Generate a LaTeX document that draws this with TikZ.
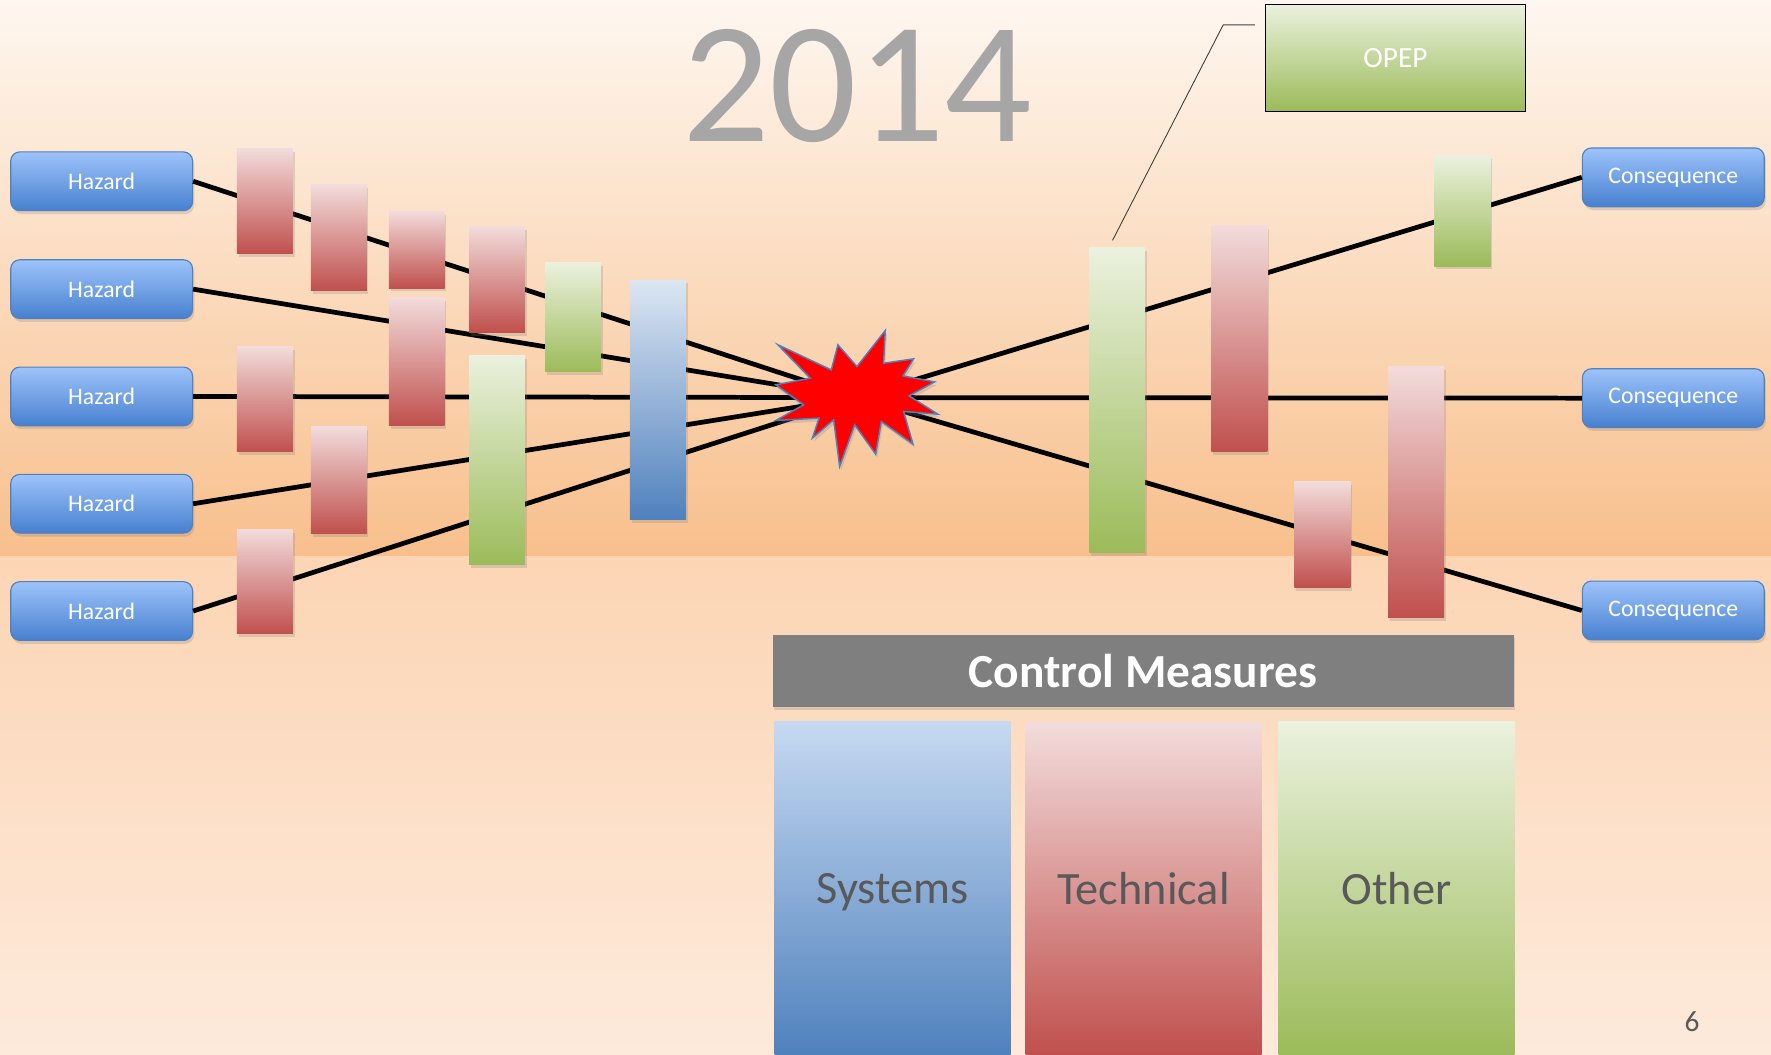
\documentclass[tikz,border=0pt]{standalone}
\usepackage{fontspec}
\setmainfont{Carlito}
\usetikzlibrary{shadows}
\definecolor{BgTop}{HTML}{FEF7F0}
\definecolor{BgMid}{HTML}{F8BF8C}
\definecolor{BgLow}{HTML}{FCD5B4}
\definecolor{BgEnd}{HTML}{FDEADB}
\definecolor{BoxTop}{HTML}{9DC3FA}
\definecolor{BoxBot}{HTML}{4780D0}
\definecolor{BoxLine}{HTML}{4F81BD}
\definecolor{RedTop}{HTML}{F2DCDB}
\definecolor{RedBot}{HTML}{C0504D}
\definecolor{GreenTop}{HTML}{EBF1DE}
\definecolor{GreenBot}{HTML}{9BBB59}
\definecolor{BlueTop}{HTML}{DCE6F2}
\definecolor{BlueBot}{HTML}{4F81BD}
\definecolor{SysTop}{HTML}{C6D9F1}
\definecolor{StarEdge}{HTML}{4F81BD}
\definecolor{HeadGray}{HTML}{7F7F7F}
\definecolor{YearGray}{HTML}{A6A6A6}
\definecolor{TextGray}{HTML}{595959}

\tikzset{
  softshadow/.style={drop shadow={shadow xshift=1.5pt, shadow yshift=-3pt, opacity=0.25}},
  riskbox/.style={draw=BoxLine, line width=1pt, rounded corners=8pt,
    top color=BoxTop, bottom color=BoxBot, minimum width=161pt, minimum height=52pt,
    text=white, font=\fontsize{21}{25}\selectfont, softshadow},
  techbar/.style={top color=RedTop, bottom color=RedBot, minimum width=49.5pt, inner sep=0pt, softshadow},
  otherbar/.style={top color=GreenTop, bottom color=GreenBot, minimum width=49.5pt, inner sep=0pt, softshadow},
  sysbar/.style={top color=BlueTop, bottom color=BlueBot, minimum width=49.5pt, inner sep=0pt, softshadow},
  link/.style={line width=4.2pt},
  column/.style={minimum width=209pt, inner sep=0pt, text depth=0pt, text=TextGray, font=\fontsize{41}{48}\selectfont}
}

\begin{document}
\begin{tikzpicture}[x=1pt,y=-1pt]
\useasboundingbox (0,0) rectangle (1568,934);
\shade[top color=BgTop, bottom color=BgMid] (0,0) rectangle (1568,493);
\shade[top color=BgLow, bottom color=BgEnd] (0,493) rectangle (1568,934);

\node[text=YearGray, font=\fontsize{153}{160}\selectfont, inner sep=0pt] (year) at (759,76) {2014};

\node[riskbox] (h1) at (90,160.5) {Hazard};
\node[riskbox] (h2) at (90,256) {Hazard};
\node[riskbox] (h3) at (90,351) {Hazard};
\node[riskbox] (h4) at (90,446) {Hazard};
\node[riskbox] (h5) at (90,541) {Hazard};

\node[riskbox] (c1) at (1481.5,157) {Consequence};
\node[riskbox] (c2) at (1481.5,352.5) {Consequence};
\node[riskbox] (c3) at (1481.5,540.5) {Consequence};

\coordinate (boom) at (758,352);

\draw[link] (h1.east) -- (boom);
\draw[link] (h2.east) -- (boom);
\draw[link] (h3.east) -- (boom);
\draw[link] (h4.east) -- (boom);
\draw[link] (h5.east) -- (boom);
\draw[link] (boom) -- (c1.west);
\draw[link] (boom) -- (c2.west);
\draw[link] (boom) -- (c3.west);

% barriers before the event
\node[techbar, minimum height=93] (t1) at (234.5,178) {};
\node[techbar, minimum height=93.5] (t2) at (300,210.3) {};
\node[techbar, minimum height=68] (t3) at (369,221) {};
\node[techbar, minimum height=93.5] (t4) at (440,247.3) {};
\node[otherbar, minimum height=96.5] (o1) at (507.3,280.8) {};
\node[sysbar, minimum height=212] (s1) at (582.5,354) {};
\node[techbar, minimum height=113] (t5) at (369,320) {};
\node[techbar, minimum height=93.5] (t6) at (234.5,353.3) {};
\node[otherbar, minimum height=185] (o2) at (440,407.5) {};
\node[techbar, minimum height=94.5] (t7) at (300,424.8) {};
\node[techbar, minimum height=92.5] (t8) at (234.5,514.8) {};

% barriers after the event
\node[otherbar, minimum height=270] (o3) at (989,354) {};
\node[techbar, minimum height=200.5] (t9) at (1097.3,299.8) {};
\node[otherbar, minimum height=97.5] (o4) at (1294.7,186.8) {};
\node[techbar, minimum height=93.4] (t10) at (1170.8,473.3) {};
\node[techbar, minimum height=222] (t11) at (1253.8,435.7) {};

\filldraw[fill=red, draw=StarEdge, line width=1.3pt, softshadow]
  (783.8,292.6) -- (782.3,321.6) -- (808.9,317.7) -- (799.5,332.8) -- (827.5,338.1)
  -- (804.8,350.5) -- (830.4,366.7) -- (800,364.3) -- (808.3,393.2) -- (780.3,373.2)
  -- (775.3,402.1) -- (756.7,376.1) -- (743.4,413) -- (738.1,371.7) -- (719.2,387.9)
  -- (725.1,370.2) -- (686.8,372.3) -- (711.5,358.4) -- (686.8,340.7) -- (717.4,334.8)
  -- (688.8,305.3) -- (736,327.5) -- (741.9,305.3) -- (758.7,324.5) -- cycle;

\node[draw=black, line width=0.8pt, top color=GreenTop, bottom color=GreenBot,
  minimum width=231pt, minimum height=95pt, text=white,
  font=\fontsize{26}{30}\selectfont] (opep) at (1235.5,51.5) {OPEP};
\coordinate (callout) at (1111,22);
\coordinate (bend) at (1083,22);
\draw[line width=0.8pt, black!75] (callout) -- (bend) -- ([xshift=-4pt,yshift=6pt]o3.north);

\node[fill=HeadGray, minimum width=656pt, minimum height=64pt, text=white,
  font=\bfseries\fontsize{42}{48}\selectfont, softshadow] (head) at (1012,594) {Control Measures};
\node[column, top color=SysTop, bottom color=BlueBot, minimum height=295] (sys) at (790.3,786.5) {Systems};
\node[column, top color=RedTop, bottom color=RedBot, minimum height=294] (tech) at (1012.5,787) {Technical};
\node[column, top color=GreenTop, bottom color=GreenBot, minimum height=295] (other) at (1236.5,786.5) {Other};

\node[text=TextGray, font=\fontsize{26}{30}\selectfont] (page) at (1498,905) {6};
\end{tikzpicture}
\end{document}
